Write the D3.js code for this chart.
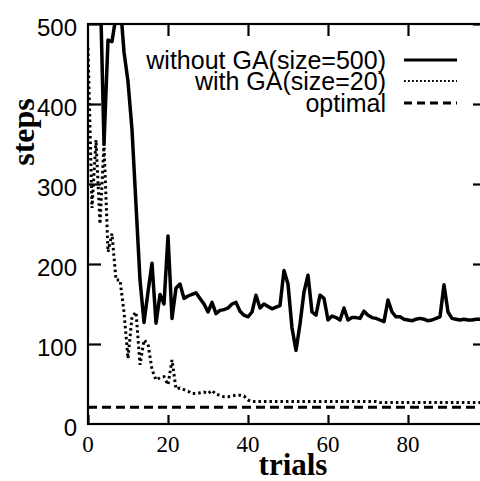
<!DOCTYPE html>
<html>
<head>
<meta charset="utf-8">
<script src="https://d3js.org/d3.v7.min.js"></script>
<style>
  body { margin: 0; background: #fff; }
  svg { display: block; }
</style>
</head>
<body>
<svg id="chart"></svg>
<script>
// steps per trial (values above 500 are clipped by the frame)
var withoutGA = [560, 560, 560, 560, 350, 480, 478, 510, 530, 465,
  428, 368, 274, 180, 127, 165, 201, 126, 162, 150,
  235, 132, 170, 175, 157, 160, 162, 164, 157, 150,
  140, 152, 138, 142, 143, 145, 150, 152, 141, 136,
  134, 140, 161, 145, 150, 147, 144, 146, 148, 192,
  175, 120, 92, 125, 165, 186, 140, 136, 161, 157,
  130, 135, 133, 130, 145, 130, 133, 133, 132, 141,
  136, 133, 132, 130, 128, 155, 140, 134, 134, 131,
  130, 129, 131, 132, 131, 129, 130, 132, 134, 174,
  140, 132, 131, 130, 131, 130, 130, 131, 131];
var withGA = [470, 270, 355, 250, 350, 215, 238, 180, 180, 140,
  82, 134, 140, 74, 105, 100, 68, 55, 58, 59,
  49, 80, 44, 45, 43, 41, 38, 38, 39, 40,
  38, 42, 37, 36, 34, 34, 35, 36, 36, 35,
  30, 28, 28, 28, 28, 28, 28, 28, 28, 28,
  28, 28, 28, 28, 28, 28, 28, 28, 28, 28,
  28, 28, 28, 28, 28, 28, 28, 28, 28, 28,
  28, 28, 28, 27, 27, 27, 27, 27, 27, 27,
  27, 27, 27, 27, 27, 27, 27, 27, 27, 27,
  27, 27, 27, 27, 27, 27, 27, 27, 27];
var optimal = 21;
var xTicks = [0, 20, 40, 60, 80];
var yTicks = [0, 100, 200, 300, 400, 500];
var legendLabels = ["without GA(size=500)", "with GA(size=20)", "optimal"];

var svgWidth = 480, svgHeight = 481;
var svg = d3.select("#chart").attr("width", svgWidth).attr("height", svgHeight);

// the right edge of the frame sits just outside the picture
var x = d3.scaleLinear().domain([0, 98.75]).range([88, 483]);
var y = d3.scaleLinear().domain([0, 500]).range([424, 24]);

svg.append("clipPath").attr("id", "plotclip")
  .append("rect").attr("x", 88).attr("y", 24).attr("width", 395).attr("height", 400);

var line = d3.line()
  .x(function(d, i) { return x(i); })
  .y(function(d) { return y(d); });

var plot = svg.append("g").attr("clip-path", "url(#plotclip)");

// optimal (dashed)
plot.append("path")
  .datum([optimal, optimal])
  .attr("fill", "none").attr("stroke", "#000").attr("stroke-width", 3)
  .attr("stroke-dasharray", "9,5")
  .attr("d", d3.line().x(function(d, i) { return x(i * 98.75); }).y(function(d) { return y(d); }));

// with GA (dotted)
plot.append("path")
  .datum(withGA)
  .attr("fill", "none").attr("stroke", "#000").attr("stroke-width", 3)
  .attr("stroke-dasharray", "2.5,3")
  .attr("d", line);

// without GA (solid)
plot.append("path")
  .datum(withoutGA)
  .attr("fill", "none").attr("stroke", "#000").attr("stroke-width", 3.5)
  .attr("stroke-linejoin", "round")
  .attr("d", line);

// frame
svg.append("rect").attr("x", 88).attr("y", 24).attr("width", 395).attr("height", 400)
  .attr("fill", "none").attr("stroke", "#000").attr("stroke-width", 2.2);

// axes, ticks pointing inward
var axBottom = svg.append("g").attr("transform", "translate(0,424)")
  .call(d3.axisTop(x).tickValues(xTicks).tickSize(9).tickFormat(""));
var axTop = svg.append("g").attr("transform", "translate(0,24)")
  .call(d3.axisBottom(x).tickValues(xTicks.slice(1)).tickSize(12).tickFormat(""));
var axLeft = svg.append("g").attr("transform", "translate(88,0)")
  .call(d3.axisRight(y).tickValues(yTicks.slice(1)).tickSize(13).tickFormat(""));
var axRight = svg.append("g").attr("transform", "translate(483,0)")
  .call(d3.axisLeft(y).tickValues(yTicks.slice(1)).tickSize(10).tickFormat(""));
[axBottom, axTop, axLeft, axRight].forEach(function(g) {
  g.select(".domain").remove();
  g.selectAll("line").attr("stroke", "#000").attr("stroke-width", 2.2);
});

// tick labels
svg.append("g").selectAll("text").data(yTicks).join("text")
  .attr("x", 77).attr("y", function(d) { return y(d) + 12; })
  .attr("text-anchor", "end")
  .style("font-family", "'Liberation Sans', Arial, sans-serif")
  .style("font-size", "24px")
  .text(function(d) { return d; });

svg.append("g").selectAll("text").data(xTicks).join("text")
  .attr("x", function(d) { return x(d); }).attr("y", 452)
  .attr("text-anchor", "middle")
  .style("font-family", "'Liberation Serif', 'Times New Roman', serif")
  .style("font-size", "23px")
  .text(function(d) { return d; });

// axis titles
svg.append("text")
  .attr("x", 293).attr("y", 475)
  .attr("text-anchor", "middle")
  .style("font-family", "'Liberation Serif', 'Times New Roman', serif")
  .style("font-size", "31px").style("font-weight", "bold")
  .text("trials");

svg.append("text")
  .attr("transform", "translate(34,132) rotate(-90)")
  .attr("text-anchor", "middle")
  .style("font-family", "'Liberation Serif', 'Times New Roman', serif")
  .style("font-size", "32px").style("font-weight", "bold")
  .text("steps");

// legend
var legendY = [60, 81, 103];
var legendDash = [null, "1.8,2.2", "8,5"];
var legendWidth = [3, 2, 3];
var legend = svg.append("g");
legendLabels.forEach(function(label, i) {
  legend.append("text")
    .attr("x", 386).attr("y", legendY[i] + 9)
    .attr("text-anchor", "end")
    .style("font-family", "'Liberation Sans', Arial, sans-serif")
    .style("font-size", "25px")
    .text(label);
  legend.append("line")
    .attr("x1", 404).attr("x2", 457)
    .attr("y1", legendY[i]).attr("y2", legendY[i])
    .attr("stroke", "#000").attr("stroke-width", legendWidth[i])
    .attr("stroke-dasharray", legendDash[i]);
});
</script>
</body>
</html>
